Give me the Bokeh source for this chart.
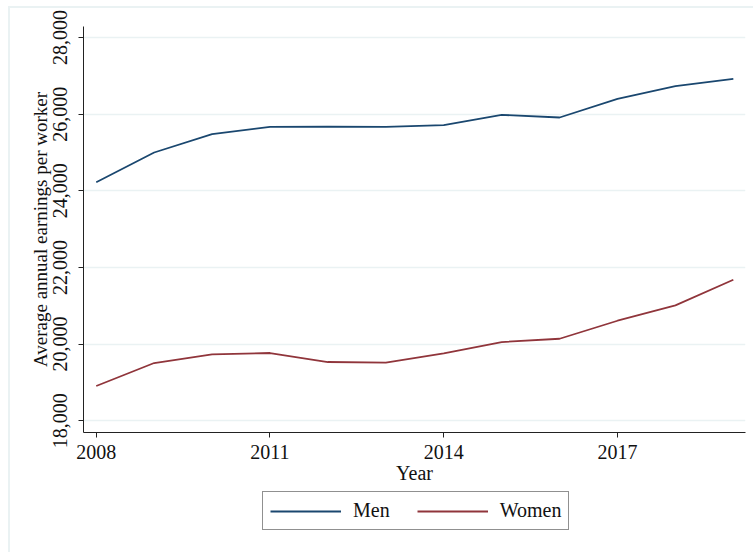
from bokeh.plotting import figure
from bokeh.layouts import column
from bokeh.models import FixedTicker, NumeralTickFormatter, Range1d, Legend, LegendItem
from bokeh.embed import file_html
from bokeh.resources import INLINE

# Average annual earnings per worker, by sex
years = [2008, 2009, 2010, 2011, 2012, 2013, 2014, 2015, 2016, 2017, 2018, 2019]
men = [24225, 25000, 25478, 25669, 25675, 25669, 25713, 25982, 25914, 26400, 26731, 26922]
women = [18904, 19504, 19731, 19765, 19530, 19513, 19757, 20052, 20138, 20608, 21010, 21679]
series_names = ["Men", "Women"]

x_ticks = [2008, 2011, 2014, 2017]
y_ticks = [18000, 20000, 22000, 24000, 26000, 28000]

FONT = "Liberation Serif"
MEN_COLOR = "#1a476f"
WOMEN_COLOR = "#90353b"
GRID_COLOR = "#eaf2f3"

# main chart
p = figure(width=743, height=478, output_backend="svg", toolbar_location=None,
           x_range=Range1d(2007.78, 2019.21), y_range=Range1d(17690, 28290))
p.min_border_left = 73
p.min_border_right = 8
p.min_border_top = 18
p.min_border_bottom = 54
p.outline_line_color = None
p.background_fill_color = "white"
p.border_fill_color = "white"

p.line(years, men, line_color=MEN_COLOR, line_width=1.8)
p.line(years, women, line_color=WOMEN_COLOR, line_width=1.8)

p.xaxis.ticker = FixedTicker(ticks=x_ticks)
p.yaxis.ticker = FixedTicker(ticks=y_ticks)
p.yaxis.formatter = NumeralTickFormatter(format="0,0")
p.yaxis.major_label_orientation = "vertical"
for ax in (p.xaxis[0], p.yaxis[0]):
    ax.axis_line_color = "#222222"
    ax.axis_line_width = 1
    ax.major_tick_line_color = "#222222"
    ax.major_tick_out = 5
    ax.major_tick_in = 0
    ax.minor_tick_line_color = None
    ax.major_label_text_font = FONT
    ax.major_label_text_font_size = "20px"
    ax.major_label_text_color = "#111111"
    ax.axis_label_text_font = FONT
    ax.axis_label_text_font_size = "20px"
    ax.axis_label_text_font_style = "normal"
    ax.axis_label_text_color = "#111111"
p.xaxis.axis_label = "Year"
p.yaxis.axis_label = "Average annual earnings per worker"
p.yaxis.axis_label_text_font_size = "19px"
p.xaxis.major_label_standoff = 7
p.xaxis.axis_label_standoff = 0
p.yaxis.major_label_standoff = 11
p.yaxis.axis_label_standoff = 0

p.xgrid.grid_line_color = None
p.ygrid.grid_line_color = GRID_COLOR
p.ygrid.grid_line_width = 1.5

# legend strip underneath the chart; its key lines carry the same series
# but sit outside this strip's ranges, so only the legend shows
q = figure(width=743, height=66, output_backend="svg", toolbar_location=None,
           x_range=Range1d(0, 1), y_range=Range1d(0, 1))
q.axis.visible = False
q.grid.visible = False
q.outline_line_color = None
q.min_border = 0
q.border_fill_color = "white"
key_men = q.line(years, men, line_color=MEN_COLOR, line_width=1.8)
key_women = q.line(years, women, line_color=WOMEN_COLOR, line_width=1.8)

legend = Legend(items=[LegendItem(label=series_names[0], renderers=[key_men]),
                       LegendItem(label=series_names[1], renderers=[key_women])],
                orientation="horizontal", location=(179, 22),
                glyph_width=71, glyph_height=20, label_standoff=12, spacing=27,
                padding=7, margin=0,
                label_text_font=FONT, label_text_font_size="20px",
                label_text_color="#111111",
                border_line_color="#222222", border_line_width=1,
                background_fill_color="white", background_fill_alpha=1)
q.add_layout(legend, "center")

# light frame around the whole graph region
layout = column(p, q, spacing=0, margin=(6, 0, 0, 8),
                styles={"border-left": f"2px solid {GRID_COLOR}",
                        "border-top": f"2px solid {GRID_COLOR}"})

open("out.html", "w").write(file_html(layout, INLINE))
